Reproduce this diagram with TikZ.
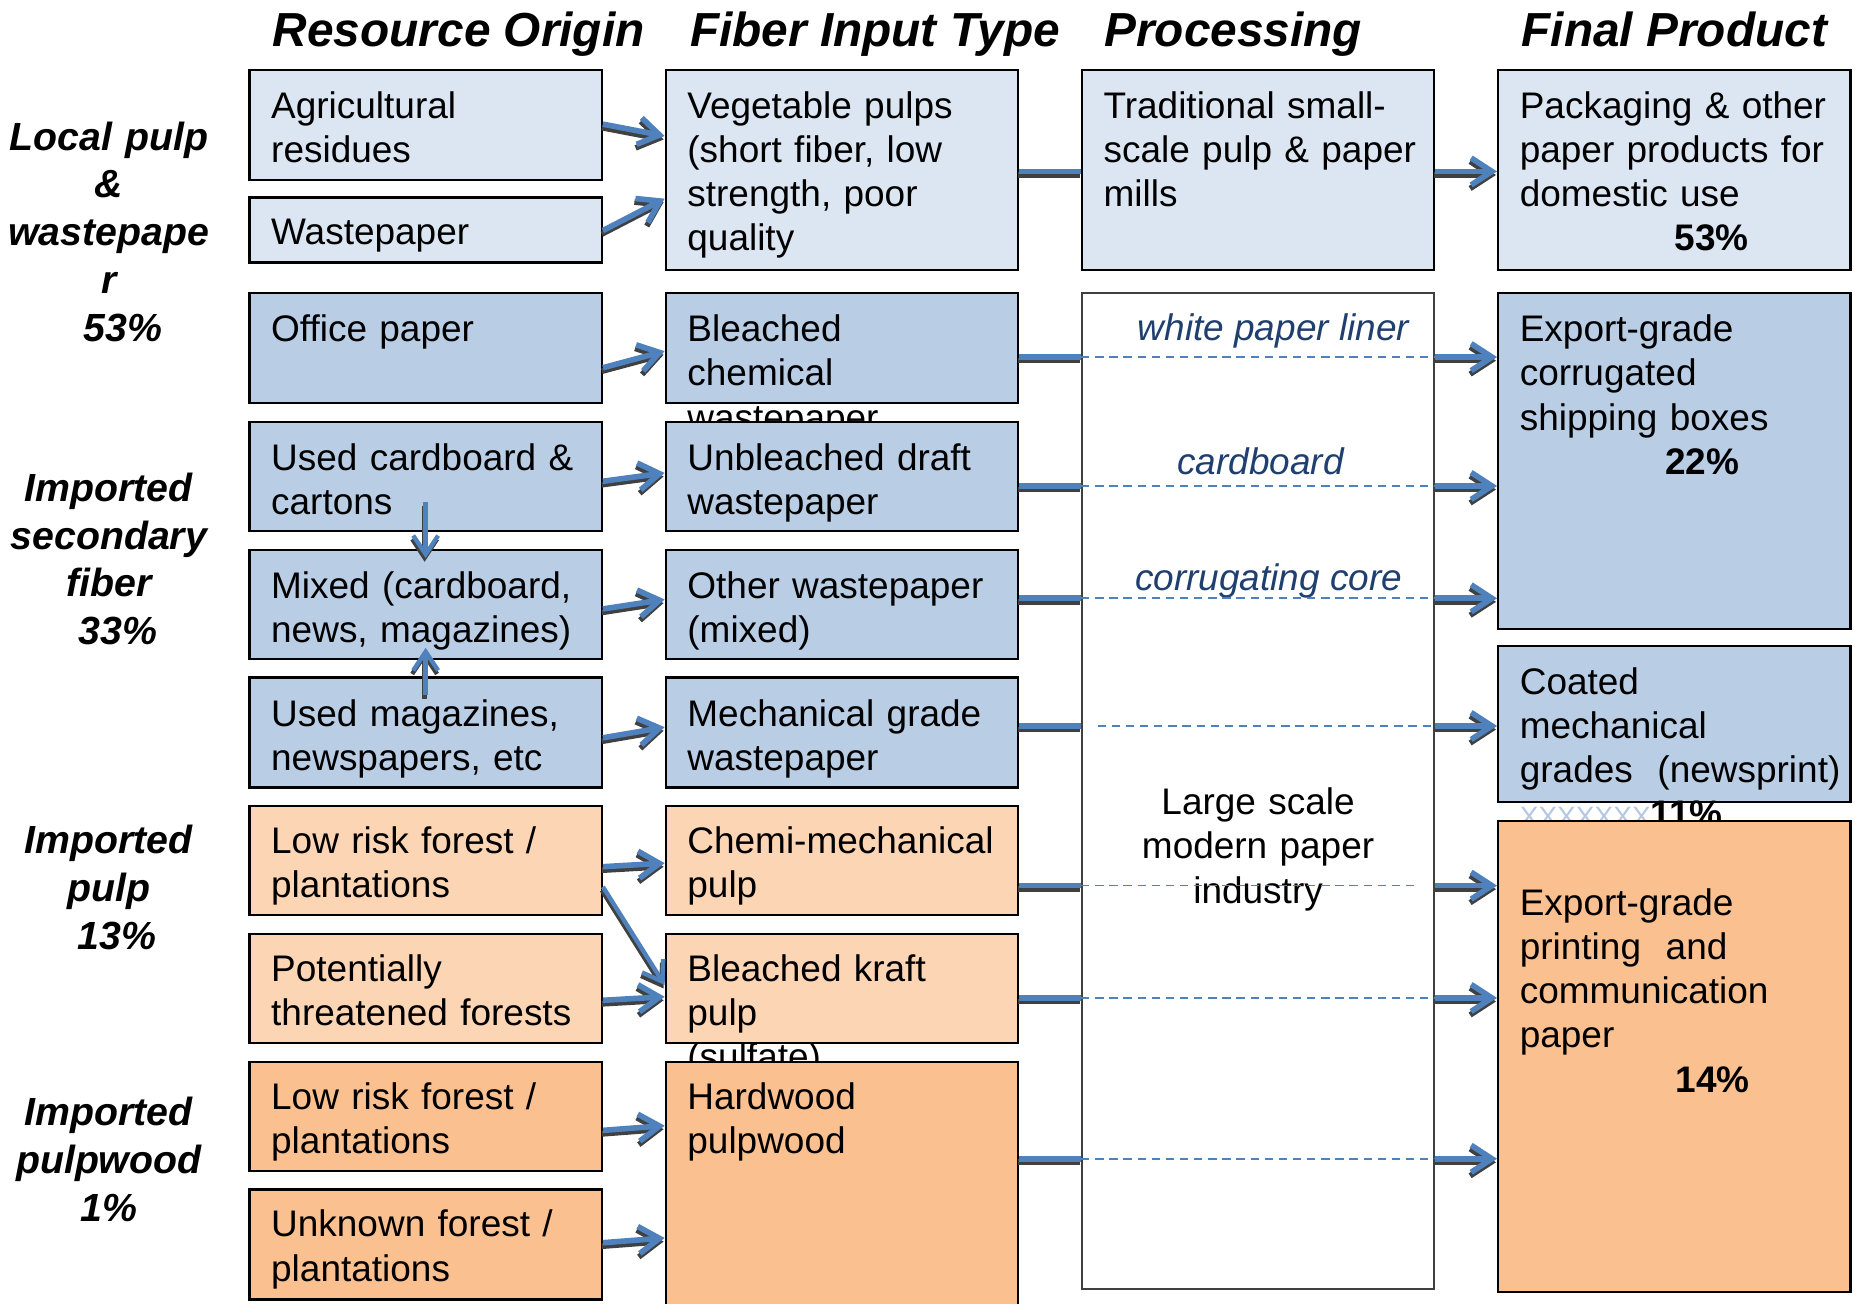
\documentclass[tikz,border=0pt]{standalone}
\usepackage{fontspec}
\setmainfont{Liberation Sans}
\usetikzlibrary{arrows.meta,fit,calc}
\definecolor{lbA}{HTML}{DCE6F2}
\definecolor{lbB}{HTML}{B9CDE5}
\definecolor{orA}{HTML}{FCD5B5}
\definecolor{orB}{HTML}{FAC090}
\definecolor{arr}{HTML}{4F81BD}
\definecolor{shd}{HTML}{404040}
\definecolor{lbl}{HTML}{1F3F6F}
\definecolor{xcol}{HTML}{B4C8E4}
\tikzset{
  box/.style={draw=black, line width=1pt, inner sep=0pt, rectangle},
  txt/.style={anchor=base west, inner sep=0pt, text width=7cm, align=left,
    font=\fontsize{17.8}{21.3}\selectfont},
  txtc/.style={anchor=base, inner sep=0pt, text width=6cm, align=center,
    font=\fontsize{17.8}{21.3}\selectfont},
  hdr/.style={anchor=base, inner sep=0pt, font=\fontsize{23}{27}\selectfont\bfseries\itshape},
  side/.style={anchor=base, inner sep=0pt, text width=4cm, align=center,
    font=\fontsize{18.9}{23}\selectfont\bfseries\itshape},
  plab/.style={anchor=base, inner sep=0pt, text=lbl, font=\fontsize{17.8}{21.3}\selectfont\itshape},
  fat/.style={draw=arr, line width=2.7pt},
  fatarr/.style={fat, -{Straight Barb[length=10pt,width=13pt]}},
  thinarr/.style={draw=arr, line width=2.1pt, -{Straight Barb[length=9pt,width=12pt]}},
  shadowed/.style={draw=shd, transform canvas={xshift=-0.5pt,yshift=-1.7pt}},
  dl/.style={draw=arr, line width=0.8pt, dash pattern=on 4pt off 2.8pt},
}
% shadowed connector: style, start, end
\newcommand\shline[3]{\draw[#1,shadowed] #2 -- #3; \draw[#1] #2 -- #3;}
\begin{document}
\begin{tikzpicture}[x=0.02cm,y=-0.02cm]
\useasboundingbox (0,0) rectangle (1568,1102);
% headers
\node[hdr] (h1) at (388,39) {Resource Origin};
\node[hdr] (h2) at (740,39) {Fiber Input Type};
\node[hdr] (h3) at (1043,39) {Processing};
\node[hdr] (h4) at (1416,39) {Final Product};
% side labels
\node[side] (s1) at (92,127) {Local pulp\\\&\\wastepape\\r\\\hspace*{0.48cm}53\%};
\node[side] (s2) at (92,424) {Imported\\secondary\\fiber\\\hspace*{0.32cm}33\%};
\node[side] (s3) at (92,722) {Imported\\pulp\\\hspace*{0.28cm}13\%};
\node[side] (s4) at (92,952) {Imported\\pulpwood\\1\%};
% column 1
\node[box, fill=lbA, fit={(211,59)(509,152)}] (agr) {};
\node[txt] (tagr) at (229,100) {Agricultural\\residues};
\node[box, fill=lbA, fit={(211,167)(509,222)}] (wst) {};
\node[txt] (twst) at (229,207) {Wastepaper};
\node[box, fill=lbB, fit={(211,248)(509,341)}] (off) {};
\node[txt] (toff) at (229,289) {Office paper};
\node[box, fill=lbB, fit={(211,357)(509,449)}] (card) {};
\node[txt] (tcard) at (229,398) {Used cardboard \&\\cartons};
\node[box, fill=lbB, fit={(211,465)(509,557)}] (mix) {};
\node[txt] (tmix) at (229,506) {Mixed (cardboard,\\news, magazines)};
\node[box, fill=lbB, fit={(211,573)(509,666)}] (mag) {};
\node[txt] (tmag) at (229,614) {Used magazines,\\newspapers, etc};
\node[box, fill=orA, fit={(211,682)(509,774)}] (low1) {};
\node[txt] (tlow1) at (229,722) {Low risk forest /\\plantations};
\node[box, fill=orA, fit={(211,790)(509,882)}] (pot) {};
\node[txt] (tpot) at (229,830) {Potentially\\threatened forests};
\node[box, fill=orB, fit={(211,898)(509,990)}] (low2) {};
\node[txt] (tlow2) at (229,938) {Low risk forest /\\plantations};
\node[box, fill=orB, fit={(211,1006)(509,1099)}] (unk) {};
\node[txt] (tunk) at (229,1046) {Unknown forest /\\plantations};
% column 2
\node[box, fill=lbA, fit={(563,59)(861,228)}] (veg) {};
\node[txt] (tveg) at (581,100) {Vegetable pulps\\(short fiber, low\\strength, poor\\quality};
\node[box, fill=lbB, fit={(563,248)(861,341)}] (bch) {};
\node[txt] (tbch) at (581,289) {Bleached\\chemical\\wastepaper};
\node[box, fill=lbB, fit={(563,357)(861,449)}] (unb) {};
\node[txt] (tunb) at (581,398) {Unbleached draft\\wastepaper};
\node[box, fill=lbB, fit={(563,465)(861,557)}] (oth) {};
\node[txt] (toth) at (581,506) {Other wastepaper\\(mixed)};
\node[box, fill=lbB, fit={(563,573)(861,666)}] (mec) {};
\node[txt] (tmec) at (581,614) {Mechanical grade\\wastepaper};
\node[box, fill=orA, fit={(563,682)(861,774)}] (chm) {};
\node[txt] (tchm) at (581,722) {Chemi-mechanical\\pulp};
\node[box, fill=orA, fit={(563,790)(861,882)}] (krf) {};
\node[txt] (tkrf) at (581,830) {Bleached kraft\\pulp\\(sulfate)};
\node[box, fill=orB, fit={(563,898)(861,1115)}] (hwd) {};
\node[txt] (thwd) at (581,938) {Hardwood\\pulpwood};
% column 3
\node[box, fill=lbA, fit={(915,59)(1213,228)}] (trd) {};
\node[txt] (ttrd) at (933,100) {Traditional small-\\scale pulp \& paper\\mills};
\node[box, fill=white, line width=0.8pt, draw=shd, fit={(915,248)(1213,1090)}] (lrg) {};
\node[plab] (p1) at (1077,288) {white paper liner};
\node[plab] (p2) at (1066,401) {cardboard};
\node[plab] (p3) at (1073,499) {corrugating core};
\node[txtc] (tlrg) at (1064,689) {Large scale\\modern paper\\industry};
% column 4
\node[box, fill=lbA, fit={(1267,59)(1565,228)}] (pck) {};
\node[txt] (tpck) at (1285,100) {Packaging \& other\\paper products for\\domestic use\\\hspace*{2.62cm}\textbf{53\%}};
\node[box, fill=lbB, fit={(1267,248)(1565,532)}] (cor) {};
\node[txt] (tcor) at (1285,289) {Export-grade\\corrugated\\shipping boxes\\\hspace*{2.46cm}\textbf{22\%}};
\node[box, fill=lbB, fit={(1267,546)(1565,678)}] (coa) {};
\node[txt] (tcoa) at (1285,587) {Coated\\mechanical\\grades~ (newsprint)\\{\fontsize{13.5}{21.3}\selectfont\color{xcol}XXXXXXX}\textbf{11\%}};
\node[box, fill=orB, fit={(1267,694)(1565,1093)}] (prt) {};
\node[txt] (tprt) at (1285,774) {Export-grade\\printing~ and\\communication\\paper\\\hspace*{2.64cm}\textbf{14\%}};
% dashed lines in processing box
\draw[dl] (lrg.west |- 0,302) -- (lrg.east |- 0,302);
\draw[dl] (lrg.west |- 0,411) -- (lrg.east |- 0,411);
\draw[dl] (lrg.west |- 0,506) -- (lrg.east |- 0,506);
\draw[dl] ($(lrg.west |- 0,614)+(14,0)$) -- (lrg.east |- 0,614);
\draw[dl] (lrg.west |- 0,749) -- ($(lrg.east |- 0,749)+(-13,0)$);
\draw[dl] (lrg.west |- 0,844) -- (lrg.east |- 0,844);
\draw[dl] (lrg.west |- 0,980) -- (lrg.east |- 0,980);
% column 1 -> column 2
\shline{fatarr}{(agr.east |- 0,105)}{(veg.west |- 0,115)}
\shline{fatarr}{(wst.east |- 0,195)}{(veg.west |- 0,168)}
\shline{fatarr}{(off.east |- 0,311)}{(bch.west |- 0,297)}
\shline{fatarr}{(card.east |- 0,407)}{(unb.west |- 0,400)}
\shline{fatarr}{(mix.east |- 0,515)}{(oth.west |- 0,507)}
\shline{fatarr}{(mag.east |- 0,624)}{(mec.west |- 0,615)}
\shline{fatarr}{(low1.east |- 0,733)}{(chm.west |- 0,730)}
\shline{thinarr}{(low1.east |- 0,750)}{(krf.west |- 0,833)}
\shline{fatarr}{(pot.east |- 0,846)}{(krf.west |- 0,843)}
\shline{fatarr}{(low2.east |- 0,956)}{(hwd.west |- 0,952)}
\shline{fatarr}{(unk.east |- 0,1051)}{(hwd.west |- 0,1047)}
\shline{thinarr}{([yshift=0.5cm]card.south)}{([yshift=-0.16cm]mix.north)}
\shline{thinarr}{([yshift=-0.32cm]mag.north)}{([yshift=0.2cm]mix.south)}
% column 2 -> column 3
\shline{fat}{(veg.east |- 0,145)}{(trd.west |- 0,145)}
\shline{fat}{(bch.east |- 0,302)}{(lrg.west |- 0,302)}
\shline{fat}{(unb.east |- 0,411)}{(lrg.west |- 0,411)}
\shline{fat}{(oth.east |- 0,506)}{(lrg.west |- 0,506)}
\shline{fat}{(mec.east |- 0,614)}{(lrg.west |- 0,614)}
\shline{fat}{(chm.east |- 0,749)}{(lrg.west |- 0,749)}
\shline{fat}{(krf.east |- 0,844)}{(lrg.west |- 0,844)}
\shline{fat}{(hwd.east |- 0,980)}{(lrg.west |- 0,980)}
% column 3 -> column 4
\shline{fatarr}{(trd.east |- 0,145)}{(pck.west |- 0,145)}
\shline{fatarr}{(lrg.east |- 0,302)}{(cor.west |- 0,302)}
\shline{fatarr}{(lrg.east |- 0,411)}{(cor.west |- 0,411)}
\shline{fatarr}{(lrg.east |- 0,506)}{(cor.west |- 0,506)}
\shline{fatarr}{(lrg.east |- 0,614)}{(coa.west |- 0,614)}
\shline{fatarr}{(lrg.east |- 0,749)}{(prt.west |- 0,749)}
\shline{fatarr}{(lrg.east |- 0,844)}{(prt.west |- 0,844)}
\shline{fatarr}{(lrg.east |- 0,980)}{(prt.west |- 0,980)}
\end{tikzpicture}
\end{document}
